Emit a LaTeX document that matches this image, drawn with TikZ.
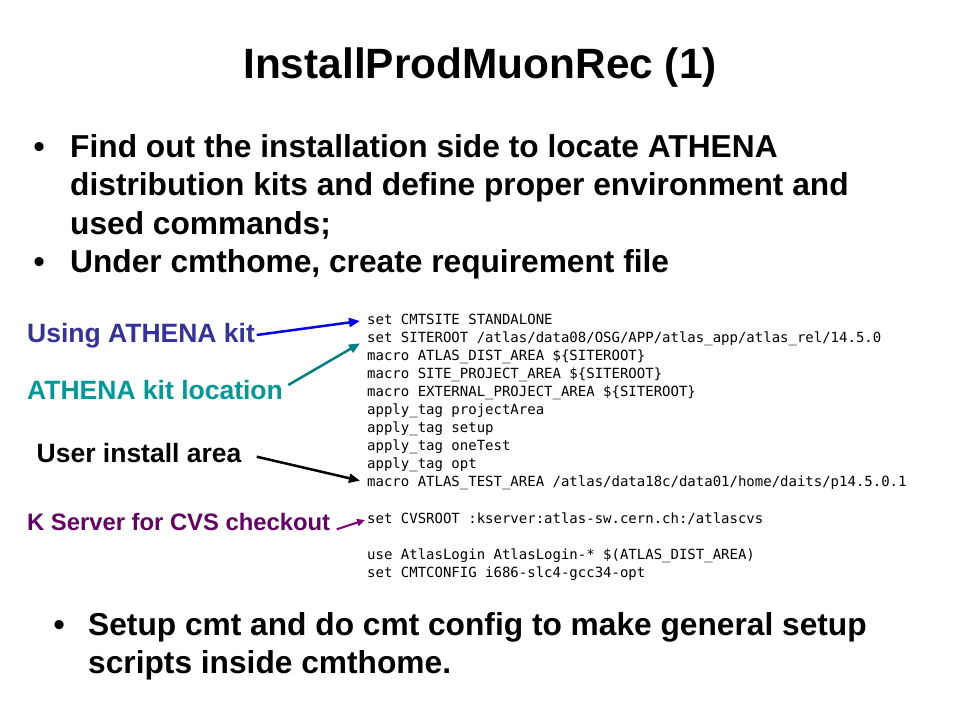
\documentclass[tikz,border=0pt]{standalone}
\usepackage{fontspec}
\setmainfont{Liberation Sans}
\newfontfamily\codefont{DejaVu Sans Mono}
\usetikzlibrary{arrows.meta}
\definecolor{labblue}{HTML}{333399}
\definecolor{arrblue}{HTML}{0000EE}
\definecolor{labteal}{HTML}{009999}
\definecolor{arrteal}{HTML}{008080}
\definecolor{labpurple}{HTML}{660066}
\definecolor{arrpurple}{HTML}{800080}
\begin{document}
\begin{tikzpicture}[x=1pt,y=-1pt,
  titletext/.style={anchor=base, inner sep=0pt, font=\fontsize{42.4}{50}\selectfont\bfseries},
  bultext/.style={anchor=base west, inner sep=0pt, font=\fontsize{31.7}{38}\selectfont\bfseries},
  codeline/.style={anchor=base west, inner sep=0pt, font=\fontsize{14}{18}\selectfont\codefont},
  labtext/.style={anchor=base west, inner sep=0pt, font=\fontsize{26.5}{30}\selectfont\bfseries},
  arr/.style={line width=2.5pt, -{Triangle[length=11pt,width=9pt]}}
]
\useasboundingbox (0,0) rectangle (960,720);
\fill[white] (0,0) rectangle (960,720);

% title
\node[titletext] (title) at (480,78) {InstallProdMuonRec (1)};

% top bullets
\node[bultext] (b1) at (33.5,157) {\textbullet};
\node[bultext] (t1) at (70,157) {Find out the installation side to locate ATHENA};
\node[bultext] (t2) at (70,195.5) {distribution kits and define proper environment and};
\node[bultext] (t3) at (70,234) {used commands;};
\node[bultext] (b2) at (33.5,272) {\textbullet};
\node[bultext] (t4) at (70,272) {Under cmthome, create requirement file};

% code block
\node[codeline] (c0) at (367,324) {set CMTSITE STANDALONE};
\node[codeline] (c1) at (367,342.1) {set SITEROOT /atlas/data08/OSG/APP/atlas\_app/atlas\_rel/14.5.0};
\node[codeline] (c2) at (367,360.2) {macro ATLAS\_DIST\_AREA \$\{SITEROOT\}};
\node[codeline] (c3) at (367,378.3) {macro SITE\_PROJECT\_AREA \$\{SITEROOT\}};
\node[codeline] (c4) at (367,396.4) {macro EXTERNAL\_PROJECT\_AREA \$\{SITEROOT\}};
\node[codeline] (c5) at (367,414.5) {apply\_tag projectArea};
\node[codeline] (c6) at (367,432.6) {apply\_tag setup};
\node[codeline] (c7) at (367,450.7) {apply\_tag oneTest};
\node[codeline] (c8) at (367,468.8) {apply\_tag opt};
\node[codeline] (c9) at (367,486.9) {macro ATLAS\_TEST\_AREA /atlas/data18c/data01/home/daits/p14.5.0.1};
\node[codeline] (c11) at (367,523.1) {set CVSROOT :kserver:atlas-sw.cern.ch:/atlascvs};
\node[codeline] (c13) at (367,559.3) {use AtlasLogin AtlasLogin-* \$(ATLAS\_DIST\_AREA)};
\node[codeline] (c14) at (367,577.4) {set CMTCONFIG i686-slc4-gcc34-opt};

% labels
\node[labtext, text=labblue] (l1) at (27,342) {Using ATHENA kit};
\node[labtext, text=labteal] (l2) at (27,399) {ATHENA kit location};
\node[labtext, text=black] (l3) at (36.5,462) {User install area};
\node[labtext, text=labpurple, font=\fontsize{23.8}{28}\selectfont\bfseries] (l4) at (27,530) {K Server for CVS checkout};

% arrow end points
\coordinate (s1) at (256.7,335);   \coordinate (e1) at (360,321);
\coordinate (s2) at (288.3,385);   \coordinate (e2) at (360,343.3);
\coordinate (s3) at (256.7,456.7); \coordinate (e3) at (360,480.7);
\coordinate (s4) at (336.7,529.3); \coordinate (e4) at (365,520);

\draw[arr, arrblue] (s1) -- (e1);
\draw[arr, arrteal] (s2) -- (e2);
\draw[arr, black] (s3) -- (e3);
\draw[line width=2pt, arrpurple, -{Triangle[length=8pt,width=7pt]}] (s4) -- (e4);

% bottom bullet
\node[bultext] (b3) at (53.5,635) {\textbullet};
\node[bultext] (t5) at (88,635) {Setup cmt and do cmt config to make general setup};
\node[bultext] (t6) at (88,673) {scripts inside cmthome.};
\end{tikzpicture}
\end{document}
